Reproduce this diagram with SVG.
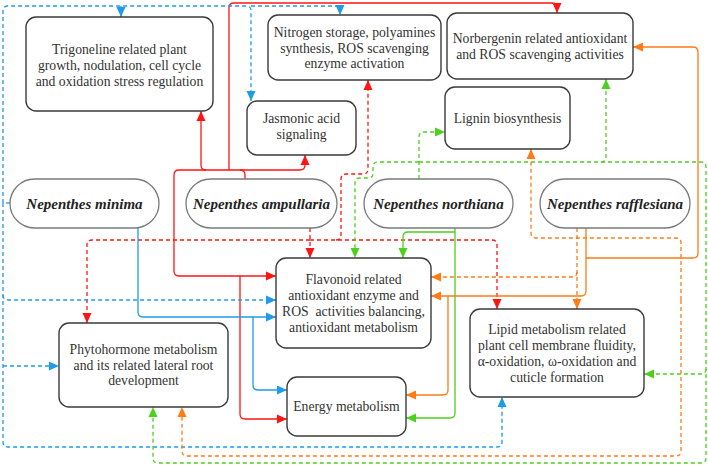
<svg xmlns="http://www.w3.org/2000/svg" width="708" height="465" viewBox="0 0 708 465">
<style>
.box{fill:#fff;stroke:#3a3a3a;stroke-width:1.4}
.pill{fill:#fff;stroke:#7a7a7a;stroke-width:1.3}
.t{font-family:"Liberation Serif","Times New Roman",serif;font-size:13.7px;fill:#333;text-anchor:middle}
.p{font-family:"Liberation Serif","Times New Roman",serif;font-size:15px;font-weight:bold;font-style:italic;fill:#222;text-anchor:middle}
.c{fill:none;stroke-width:1.3}
.d{stroke-dasharray:4 3}
.r{stroke:#ff1414}
.b{stroke:#1e9be9}
.g{stroke:#4ed01e}
.o{stroke:#ff7b14}
.r{marker-end:url(#ar)}
.b{marker-end:url(#ab)}
.g{marker-end:url(#ag)}
.o{marker-end:url(#ao)}
.n{marker-end:none}
</style>
<defs>
<marker id="ar" markerUnits="userSpaceOnUse" markerWidth="10" markerHeight="10" refX="10" refY="5" orient="auto" viewBox="0 0 10 10"><path d="M0,0.5L10,5L0,9.5z" fill="#ff1414"/></marker>
<marker id="ab" markerUnits="userSpaceOnUse" markerWidth="10" markerHeight="10" refX="10" refY="5" orient="auto" viewBox="0 0 10 10"><path d="M0,0.5L10,5L0,9.5z" fill="#1e9be9"/></marker>
<marker id="ag" markerUnits="userSpaceOnUse" markerWidth="10" markerHeight="10" refX="10" refY="5" orient="auto" viewBox="0 0 10 10"><path d="M0,0.5L10,5L0,9.5z" fill="#4ed01e"/></marker>
<marker id="ao" markerUnits="userSpaceOnUse" markerWidth="10" markerHeight="10" refX="10" refY="5" orient="auto" viewBox="0 0 10 10"><path d="M0,0.5L10,5L0,9.5z" fill="#ff7b14"/></marker>
</defs>
<rect width="708" height="465" fill="#fff"/>
<g id="connectors">
<!-- red solid -->
<path class="c r n" d="M245,179V175Q245,170 240,170H179Q174,170 174,175V271Q174,276 179,276H240"/>
<path class="c r" d="M240,170H300Q305,170 305,165V155"/>
<path class="c r" d="M240,276H276"/>
<path class="c r" d="M206,170Q201,170 201,165V111"/>
<path class="c r" d="M229,170V8Q229,3 234,3H552Q557,3 557,8V13"/>
<path class="c r" d="M240,276V414Q240,419 245,419H287"/>
<!-- red dashed -->
<path class="c d r" d="M310,228V258"/>
<path class="c d r" d="M310,240H92Q87,240 87,245V323"/>
<path class="c d r" d="M310,240H492Q497,240 497,245V309"/>
<path class="c d r" d="M336,240Q341,240 341,235V179Q341,174 346,174H363Q368,174 368,169V80"/>
<!-- blue solid -->
<path class="c b" d="M138,228V312Q138,317 143,317H276"/>
<path class="c b" d="M253,317V385Q253,390 258,390H287"/>
<!-- blue dashed -->
<path class="c d b n" d="M10,203H3"/>
<path class="c d b" d="M3,203V11Q3,6 8,6H246Q251,6 251,11V101"/>
<path class="c d b" d="M121,6V17"/>
<path class="c d b" d="M251,6H335Q340,6 340,11V15"/>
<path class="c d b" d="M3,203V442Q3,447 8,447H497Q502,447 502,442V397"/>
<path class="c d b" d="M3,295Q3,300 8,300H276"/>
<path class="c d b" d="M3,366H59"/>
<!-- green solid -->
<path class="c g" d="M455,228V413Q455,418 450,418H406"/>
<path class="c g" d="M455,232H408Q403,232 403,237V258"/>
<!-- green dashed -->
<path class="c d g" d="M419,179V137Q419,132 424,132H445"/>
<path class="c d g" d="M419,162H378Q373,162 373,167V173Q373,178 368,178H360Q355,178 355,183V258"/>
<path class="c d g" d="M419,162H701Q706,162 706,167V458Q706,463 701,463H158Q153,463 153,458V407"/>
<path class="c d g" d="M601,162Q606,162 606,157V79"/>
<path class="c d g" d="M706,369Q706,374 701,374H644"/>
<!-- orange solid -->
<path class="c o" d="M586,228V291Q586,296 581,296H431"/>
<path class="c o" d="M448,296V390Q448,395 443,395H406"/>
<path class="c o" d="M586,258H693Q698,258 698,253V52Q698,47 693,47H633"/>
<!-- orange dashed -->
<path class="c d o" d="M577,228V309"/>
<path class="c d o" d="M577,272Q577,277 572,277H431"/>
<path class="c d o" d="M681,300V243Q681,238 676,238H536Q531,238 531,233V149"/>
<path class="c d o" d="M681,300V451Q681,456 676,456H187Q182,456 182,451V407"/>
</g>
<g id="trigoneline"><rect class="box" x="26" y="17" width="187" height="94" rx="10"/>
<text class="t" x="119.5" y="53.5">Trigoneline related plant</text>
<text class="t" x="119.5" y="69.5">growth, nodulation, cell cycle</text>
<text class="t" x="119.5" y="85.5">and oxidation stress regulation</text></g>
<g id="nitrogen"><rect class="box" x="268" y="15" width="173" height="65" rx="10"/>
<text class="t" x="354.5" y="36.5">Nitrogen storage, polyamines</text>
<text class="t" x="354.5" y="52.5">synthesis, ROS scavenging</text>
<text class="t" x="354.5" y="67.5">enzyme activation</text></g>
<g id="norbergenin"><rect class="box" x="447" y="13" width="186" height="66" rx="10"/>
<text class="t" x="540" y="42.5">Norbergenin related antioxidant</text>
<text class="t" x="540" y="58.5">and ROS scavenging activities</text></g>
<g id="jasmonic"><rect class="box" x="247" y="101" width="109" height="54" rx="10"/>
<text class="t" x="301.5" y="122.5">Jasmonic acid</text>
<text class="t" x="301.5" y="138.5">signaling</text></g>
<g id="lignin"><rect class="box" x="445" y="87" width="125" height="62" rx="10"/>
<text class="t" x="507.5" y="122.5">Lignin biosynthesis</text></g>
<g id="minima"><rect class="pill" x="10" y="179" width="149" height="49" rx="24.5"/>
<text class="p" x="84.5" y="208.5">Nepenthes minima</text></g>
<g id="ampullaria"><rect class="pill" x="186" y="179" width="151" height="49" rx="24.5"/>
<text class="p" x="261.5" y="208.5">Nepenthes ampullaria</text></g>
<g id="northiana"><rect class="pill" x="364" y="179" width="149" height="49" rx="24.5"/>
<text class="p" x="438.5" y="208.5">Nepenthes northiana</text></g>
<g id="rafflesiana"><rect class="pill" x="540" y="179" width="150" height="49" rx="24.5"/>
<text class="p" x="615" y="208.5">Nepenthes rafflesiana</text></g>
<g id="flavonoid"><rect class="box" x="276" y="258" width="155" height="90" rx="10"/>
<text class="t" x="353.5" y="283.5">Flavonoid related</text>
<text class="t" x="353.5" y="299.5">antioxidant enzyme and</text>
<text class="t" x="353.5" y="315.5" xml:space="preserve">ROS  activities balancing,</text>
<text class="t" x="353.5" y="331.5">antioxidant metabolism</text></g>
<g id="phytohormone"><rect class="box" x="59" y="323" width="169" height="84" rx="10"/>
<text class="t" x="143.5" y="353.5">Phytohormone metabolism</text>
<text class="t" x="143.5" y="369.5">and its related lateral root</text>
<text class="t" x="143.5" y="385">development</text></g>
<g id="energy"><rect class="box" x="287" y="377" width="119" height="59" rx="10"/>
<text class="t" x="346.5" y="411">Energy metabolism</text></g>
<g id="lipid"><rect class="box" x="470" y="309" width="174" height="88" rx="10"/>
<text class="t" x="557" y="333.5">Lipid metabolism related</text>
<text class="t" x="557" y="349.5">plant cell membrane fluidity,</text>
<text class="t" x="557" y="365.5">α-oxidation, ω-oxidation and</text>
<text class="t" x="557" y="381.5">cuticle formation</text></g>
</svg>
